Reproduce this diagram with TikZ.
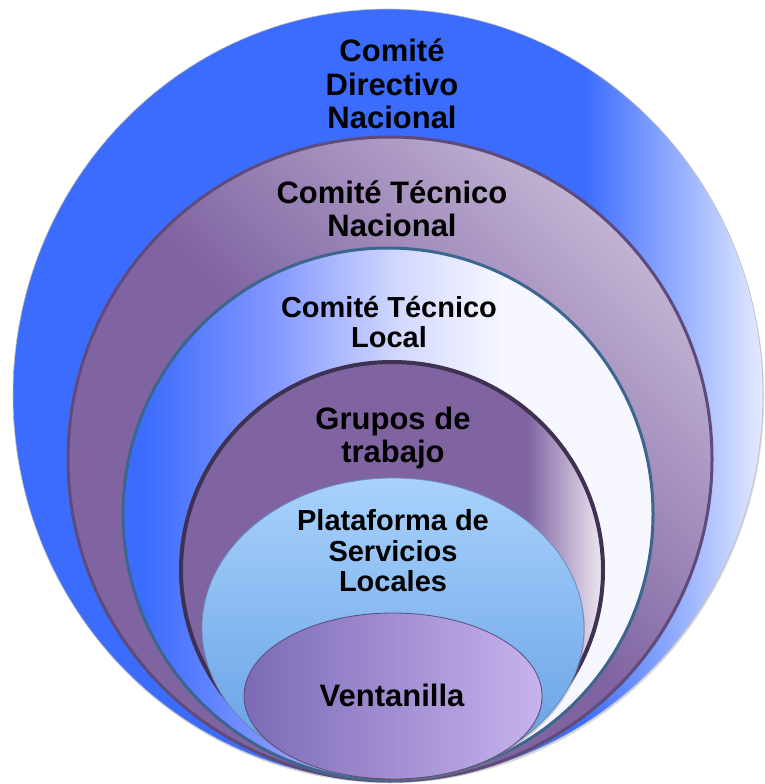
\documentclass[tikz,border=0pt]{standalone}
\usepackage{fontspec}
\setmainfont{Liberation Sans}
\usepackage{tikz}
\usetikzlibrary{shadows}
\definecolor{bluedeep}{HTML}{3C6CFE}
\definecolor{bluepale}{HTML}{E4EAFF}
\definecolor{bluesoft}{HTML}{8297FF}
\definecolor{bluefaint}{HTML}{D2D8FF}
\definecolor{bluewhite}{HTML}{F7F8FF}
\definecolor{steelline}{HTML}{3C6590}
\definecolor{purplemid}{HTML}{8064A2}
\definecolor{purplepale}{HTML}{C9BCD9}
\definecolor{purplewhite}{HTML}{EEE8F3}
\definecolor{purpleline}{HTML}{5F4B7B}
\definecolor{plumline}{HTML}{3F3152}
\definecolor{skytop}{HTML}{A8D2FC}
\definecolor{skylow}{HTML}{629DE4}
\definecolor{skyline}{HTML}{6A8CB8}
\definecolor{lavdeep}{HTML}{7C6AB6}
\definecolor{lavpale}{HTML}{C7B3ED}
\definecolor{lavline}{HTML}{5C4C78}
\pgfdeclarehorizontalshading{ringone}{100bp}{color(0bp)=(bluedeep); color(25bp)=(bluedeep); color(63bp)=(bluedeep); color(75bp)=(bluepale); color(100bp)=(bluepale)}
\pgfdeclarehorizontalshading{ringtwo}{100bp}{color(0bp)=(purplemid); color(50bp)=(purplemid); color(78bp)=(purplepale); color(100bp)=(purplepale)}
\pgfdeclarehorizontalshading{ringthree}{100bp}{color(0bp)=(bluedeep); color(27bp)=(bluedeep); color(39bp)=(bluesoft); color(51bp)=(bluefaint); color(61bp)=(bluewhite); color(100bp)=(bluewhite)}
\pgfdeclarehorizontalshading{ringfour}{100bp}{color(0bp)=(purplemid); color(66bp)=(purplemid); color(75bp)=(purplewhite); color(100bp)=(purplewhite)}
\tikzset{
  soft/.style={drop shadow={shadow xshift=1pt, shadow yshift=-2pt, opacity=0.3}},
  ringa/.style={shade, shading=ringone, draw=black!25, line width=0.6pt, soft},
  ringb/.style={shade, shading=ringtwo, shading angle=45, draw=purpleline, line width=3pt, soft},
  ringc/.style={shade, shading=ringthree, draw=steelline, line width=3pt, soft},
  ringd/.style={shade, shading=ringfour, draw=plumline, line width=4pt, soft},
  ringe/.style={top color=skytop, bottom color=skylow, draw=skyline, line width=0.8pt, soft},
  ringf/.style={left color=lavdeep, right color=lavpale, draw=lavline, line width=0.8pt, soft},
  lab/.style={text=black, align=center, font=\bfseries\fontsize{31}{33.5}\selectfont},
  labs/.style={text=black, align=center, font=\bfseries\fontsize{29}{30.5}\selectfont},
}
\begin{document}
\begin{tikzpicture}[x=1pt,y=-1pt]
  \useasboundingbox (0,0) rectangle (764,784);
  \path[ringa] (388,395) ellipse [x radius=375, y radius=386];
  \path[ringb] (390,459) ellipse [x radius=322, y radius=322];
  \path[ringc] (388,514) ellipse [x radius=265, y radius=266];
  \path[ringd] (392,570) ellipse [x radius=211, y radius=208];
  \path[ringe] (393,628) ellipse [x radius=191, y radius=150];
  \path[ringf] (393,696) ellipse [x radius=149, y radius=83];
  \node[lab] (cdn) at (392,84) {Comité\\Directivo\\Nacional};
  \node[lab] (ctn) at (392,209) {Comité Técnico\\Nacional};
  \node[labs] (ctl) at (389,322) {Comité Técnico\\Local};
  \node[lab] (gdt) at (393,438) {Grupos de\\trabajo};
  \node[labs] (psl) at (393,551) {Plataforma de\\Servicios\\Locales};
  \node[lab] (ven) at (392,695) {Ventanilla};
\end{tikzpicture}
\end{document}
